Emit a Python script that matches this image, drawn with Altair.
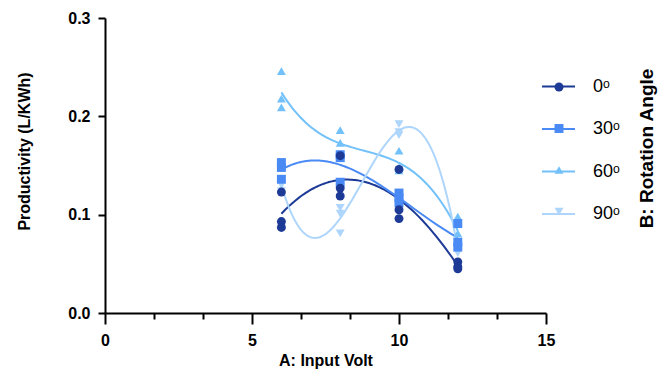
import altair as alt
import pandas as pd

# ---- data ----
angles = ["0ᵒ", "30ᵒ", "60ᵒ", "90ᵒ"]
volts = [6, 6, 6, 8, 8, 8, 10, 10, 10, 12, 12, 12]
prod_0 = [0.123, 0.093, 0.087, 0.160, 0.127, 0.119, 0.146, 0.105, 0.096, 0.052, 0.047, 0.045]
prod_30 = [0.153, 0.148, 0.136, 0.161, 0.158, 0.133, 0.122, 0.117, 0.112, 0.091, 0.072, 0.067]
prod_60 = [0.246, 0.218, 0.209, 0.186, 0.173, 0.158, 0.165, 0.148, 0.145, 0.098, 0.081, 0.072]
prod_90 = [0.136, 0.130, 0.124, 0.107, 0.101, 0.081, 0.192, 0.181, 0.184, 0.072, 0.065, 0.061]

x_major = [0, 5, 10, 15]
x_minor = [1.667, 3.333, 6.667, 8.333, 11.667, 13.333]
y_ticks = [0, 0.1, 0.2, 0.3]

colors = ["#1c3a96", "#4a8af5", "#72c1fa", "#aed5fb"]
shapes = ["circle", "square", "triangle-up", "triangle-down"]

# line-legend keys carry a trailing space so that the two legends stay separate
angles_l = [a + " " for a in angles]

rows = []
for i, (a, vals) in enumerate(zip(angles, [prod_0, prod_30, prod_60, prod_90])):
    for v, p in zip(volts, vals):
        rows.append({"volt": v, "prod": p, "angle": a, "angle_l": angles_l[i], "k": i})
df = pd.DataFrame(rows)

FONT = "Arial, Liberation Sans, sans-serif"
xscale = alt.Scale(domain=[0, 15], nice=False)
yscale = alt.Scale(domain=[0, 0.3], nice=False)

base = alt.Chart(df)

lines = base.transform_regression(
    "volt", "prod", method="poly", order=3, groupby=["angle_l"]
).mark_line(strokeWidth=2).encode(
    x=alt.X("volt:Q", scale=xscale, axis=alt.Axis(
        orient="bottom", values=x_minor, labels=False, domain=False, grid=False,
        ticks=True, tickSize=6, tickWidth=2, tickColor="black", title=None)),
    y=alt.Y("prod:Q", scale=yscale, axis=alt.Axis(
        orient="right", domain=False, ticks=False, labels=False, grid=False,
        title="B: Rotation Angle", titleAngle=270, titleX=106, titleY=130,
        titleBaseline="alphabetic", titleAlign="center",
        titleFont=FONT, titleFontSize=19, titleFontWeight="bold", titleColor="black")),
    stroke=alt.Stroke("angle_l:N", scale=alt.Scale(domain=angles_l, range=colors),
                      legend=alt.Legend(orient="none", legendX=436, legendY=51,
                                        title=None, symbolType="stroke", symbolSize=1089,
                                        symbolStrokeWidth=2, labelFont=FONT, labelFontSize=18,
                                        labelColor="black", labelOffset=17, rowPadding=15.5)),
)

pt_legend = alt.Legend(orient="none", legendX=449, legendY=64, title=None,
                       symbolSize=80, symbolStrokeWidth=0, labelExpr="''",
                       rowPadding=31.5, symbolOpacity=1)

points = base.mark_point(filled=True, size=80, opacity=1).encode(
    x=alt.X("volt:Q", scale=xscale, axis=alt.Axis(
        orient="bottom", values=x_major, grid=False, domainColor="black", domainWidth=2,
        tickColor="black", tickWidth=2, tickSize=11, labelFont=FONT, labelFontSize=16,
        labelFontWeight="bold", labelColor="black", labelPadding=8, labelFlush=False,
        title="A: Input Volt", titleFont=FONT, titleFontSize=16, titleFontWeight="bold",
        titleColor="black", titleY=52, titleBaseline="alphabetic")),
    y=alt.Y("prod:Q", scale=yscale, axis=alt.Axis(
        orient="left", values=y_ticks, format=".1f", grid=False, domainColor="black",
        domainWidth=2, tickColor="black", tickWidth=2, tickSize=7, labelFont=FONT,
        labelFontSize=16, labelFontWeight="bold", labelColor="black", labelPadding=8,
        labelFlush=False, title="Productivity (L/KWh)", titleFont=FONT, titleFontSize=16,
        titleFontWeight="bold", titleColor="black", titleX=-76, titleY=133,
        titleAlign="center", titleBaseline="alphabetic")),
    fill=alt.Fill("angle:N", scale=alt.Scale(domain=angles, range=colors), legend=pt_legend),
    shape=alt.Shape("angle:N", scale=alt.Scale(domain=angles, range=shapes), legend=pt_legend),
    order=alt.Order("k:Q", sort="descending"),
)

chart = alt.layer(lines, points).resolve_axis(
    x="independent", y="independent"
).properties(
    width=441, height=295,
    autosize=alt.AutoSizeParams(type="none"),
    padding={"left": 97, "top": 10, "right": 112, "bottom": 57},
).configure_view(stroke=None)

chart.save("out.html", embed_options={"renderer": "svg", "actions": False})
